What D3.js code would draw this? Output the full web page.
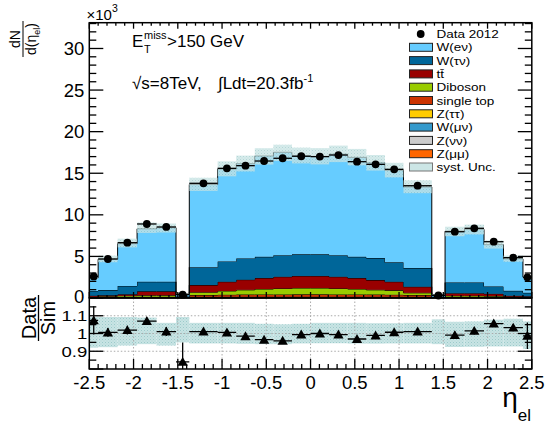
<!DOCTYPE html>
<html><head><meta charset="utf-8">
<script src="https://cdn.jsdelivr.net/npm/d3@7"></script>
<style>body{margin:0;background:#fff}svg{display:block}text{font-family:"Liberation Sans",Arial,Helvetica,sans-serif;fill:#000}</style>
</head><body><svg id="c" width="550" height="426"></svg>
<script>
// ---------------- data ----------------
const binEdges = [-2.5,-2.4,-2.18,-1.96,-1.74,-1.52,-1.37,-1.05,-0.84,-0.63,-0.42,-0.21,0,0.21,0.42,0.63,0.84,1.05,1.37,1.52,1.74,1.96,2.18,2.4,2.5];
const data2012 = [2.6,4.69,6.65,8.9,8.54,0.4,13.79,15.59,15.91,16.47,16.8,17.04,17.0,17.19,16.39,16.07,15.47,13.5,0.3,7.97,8.38,6.77,4.85,2.49];
const dataErr  = [0.12,0.15,0.18,0.2,0.2,0.05,0.25,0.25,0.25,0.25,0.25,0.25,0.25,0.25,0.25,0.25,0.25,0.25,0.05,0.2,0.2,0.18,0.15,0.12];
const Zmumu    = [0.005,0.005,0.005,0.005,0.005,0.002,0.02,0.02,0.02,0.02,0.02,0.02,0.02,0.02,0.02,0.02,0.02,0.02,0.001,0.005,0.005,0.005,0.005,0.005];
const Znunu    = [0.005,0.005,0.005,0.005,0.005,0.003,0.02,0.02,0.02,0.02,0.02,0.02,0.02,0.02,0.02,0.02,0.02,0.02,0.002,0.005,0.005,0.005,0.005,0.005];
const Wmunu    = [0.02,0.02,0.02,0.02,0.02,0.005,0.05,0.05,0.05,0.05,0.05,0.05,0.05,0.05,0.05,0.05,0.05,0.05,0.003,0.02,0.02,0.02,0.02,0.02];
const Ztautau  = [0.02,0.02,0.02,0.02,0.02,0.005,0.06,0.06,0.06,0.06,0.06,0.06,0.06,0.06,0.06,0.06,0.06,0.06,0.004,0.02,0.02,0.02,0.02,0.02];
const singletop= [0.04,0.07,0.09,0.11,0.11,0.01,0.2,0.24,0.26,0.28,0.28,0.29,0.29,0.28,0.28,0.26,0.24,0.2,0.01,0.11,0.11,0.09,0.06,0.04];
const diboson  = [0.05,0.1,0.14,0.17,0.17,0.015,0.35,0.46,0.57,0.65,0.72,0.76,0.76,0.72,0.65,0.57,0.53,0.27,0.015,0.12,0.12,0.09,0.03,0.02];
const ttbar    = [0.14,0.11,0.17,0.47,0.47,0.04,0.85,1.1,1.22,1.32,1.4,1.45,1.45,1.4,1.32,1.17,1.03,0.73,0.035,0.3,0.3,0.27,0.12,0.11];
const Wtaunu   = [0.57,0.62,1.0,1.15,1.15,0.1,2.15,2.45,2.55,2.55,2.6,2.6,2.6,2.6,2.55,2.65,2.35,2.25,0.08,1.28,1.28,0.88,0.6,0.4];
const Wenu     = [1.57,3.71,5.08,6.37,6.5,0.3,9.94,11.1,11.4,12.12,12.37,11.89,11.75,12.14,11.96,11.45,11.06,9.75,0.25,6.18,6.4,5.03,3.84,1.9];
const ratio    = [1.074,1.006,1.019,1.07,1.011,0.84,1.011,1.006,0.985,0.965,0.959,0.994,1.0,0.994,0.969,0.989,1.007,1.011,null,0.991,1.015,1.056,1.033,0.987];
const ratioErr = [0.08,0.025,0.025,0.02,0.025,0.11,0.014,0.014,0.014,0.014,0.014,0.014,0.014,0.014,0.014,0.014,0.014,0.014,0,0.02,0.02,0.02,0.02,0.075];
const systUp   = [0.093,0.093,0.093,0.09,0.06,0.093,0.06,0.06,0.06,0.055,0.052,0.055,0.06,0.06,0.06,0.058,0.058,0.06,0.08,0.066,0.068,0.078,0.083,0.068];
const systDown = [0.08,0.077,0.068,0.06,0.068,0.05,0.056,0.056,0.058,0.06,0.06,0.056,0.055,0.055,0.057,0.057,0.056,0.056,0.06,0.076,0.075,0.073,0.073,0.087];
const mainYTicks = [0,5,10,15,20,25,30];
const ratioYTicks = [0.9,1,1.1];
const xTicks = [-2.5,-2,-1.5,-1,-0.5,0,0.5,1,1.5,2,2.5];
const xTickLabels = ["-2.5","-2","-1.5","-1","-0.5","0","0.5","1","1.5","2","2.5"];

const stackKeys = ["Zmumu","Znunu","Wmunu","Ztautau","singletop","diboson","ttbar","Wtaunu","Wenu"];
const seriesMap = {Zmumu,Znunu,Wmunu,Ztautau,singletop,diboson,ttbar,Wtaunu,Wenu};
const colors = {Wenu:"#66ccff",Wtaunu:"#006699",ttbar:"#990000",diboson:"#99cc00",singletop:"#cc3300",Ztautau:"#ffcc00",Wmunu:"#3399cc",Znunu:"#cccccc",Zmumu:"#ff6600"};
const legendItems = [["Wenu","W(eν)"],["Wtaunu","W(τν)"],["ttbar","tt\u0304"],["diboson","Diboson"],["singletop","single top"],["Ztautau","Z(ττ)"],["Wmunu","W(μν)"],["Znunu","Z(νν)"],["Zmumu","Z(μμ)"]];

// ---------------- layout ----------------
const X0=89.3, X1=531.8, YT=22.7, YB=298, YR=369;
const x = d3.scaleLinear().domain([-2.5,2.5]).range([X0,X1]);
const y = d3.scaleLinear().domain([0,33.1]).range([YB,YT]);
const yr = d3.scaleLinear().domain([0.8,1.2]).range([YR,YB]);
const svg = d3.select("#c");
const defs = svg.append("defs");
const pat = defs.append("pattern").attr("id","hatch").attr("width",3).attr("height",3).attr("patternUnits","userSpaceOnUse");
pat.append("rect").attr("width",3).attr("height",3).attr("fill","#c8e4e4");
pat.append("rect").attr("width",1).attr("height",1).attr("fill","#9ccaca");
pat.append("rect").attr("x",1.5).attr("y",1.5).attr("width",1).attr("height",1).attr("fill","#b0d6d6");
defs.append("clipPath").attr("id","clipM").append("rect").attr("x",X0).attr("y",YT).attr("width",X1-X0).attr("height",YB-YT);
defs.append("clipPath").attr("id","clipR").append("rect").attr("x",X0).attr("y",YB).attr("width",X1-X0).attr("height",YR-YB);

const nb = binEdges.length-1;
const rows = d3.range(nb).map(i=>{const r={i}; stackKeys.forEach(k=>r[k]=seriesMap[k][i]); return r;});
const stacked = d3.stack().keys(stackKeys)(rows);
const mcTotal = rows.map(r=>d3.sum(stackKeys,k=>r[k]));

const gM = svg.append("g").attr("clip-path","url(#clipM)");
stacked.forEach(layer=>{
  const pts = layer.map((d,i)=>({x:binEdges[i],lo:d[0],hi:d[1]}));
  pts.push({x:binEdges[nb],lo:layer[nb-1][0],hi:layer[nb-1][1]});
  gM.append("path").attr("d",d3.area().curve(d3.curveStepAfter).x(d=>x(d.x)).y0(d=>y(d.lo)).y1(d=>y(d.hi))(pts))
    .attr("fill",colors[layer.key]);
  gM.append("path").attr("d",d3.line().curve(d3.curveStepAfter).x(d=>x(d.x)).y(d=>y(d.hi))(pts))
    .attr("fill","none").attr("stroke","#000").attr("stroke-width",1);
});
// syst band main
gM.selectAll(".band").data(d3.range(nb)).join("rect")
  .attr("x",i=>x(binEdges[i])).attr("width",i=>x(binEdges[i+1])-x(binEdges[i]))
  .attr("y",i=>y(mcTotal[i]*(1+systUp[i]))).attr("height",i=>y(mcTotal[i]*(1-systDown[i]))-y(mcTotal[i]*(1+systUp[i])))
  .attr("fill","url(#hatch)").attr("opacity",0.75);
// data
const gD = svg.append("g");
d3.range(nb).forEach(i=>{
  const xc = x((binEdges[i]+binEdges[i+1])/2);
  gD.append("line").attr("x1",x(binEdges[i])).attr("x2",x(binEdges[i+1])).attr("y1",y(data2012[i])).attr("y2",y(data2012[i])).attr("stroke","#000").attr("stroke-width",1.3);
  gD.append("line").attr("x1",xc).attr("x2",xc).attr("y1",y(data2012[i]-dataErr[i])).attr("y2",y(data2012[i]+dataErr[i])).attr("stroke","#000").attr("stroke-width",1.3);
  gD.append("circle").attr("cx",xc).attr("cy",y(data2012[i])).attr("r",3.9).attr("fill","#000");
});

// ratio panel
const gR = svg.append("g").attr("clip-path","url(#clipR)");
gR.selectAll(".rb").data(d3.range(nb)).join("rect")
  .attr("x",i=>x(binEdges[i])).attr("width",i=>x(binEdges[i+1])-x(binEdges[i]))
  .attr("y",i=>yr(1+systUp[i])).attr("height",i=>yr(1-systDown[i])-yr(1+systUp[i]))
  .attr("fill","url(#hatch)");
xTicks.slice(1,-1).forEach(v=>gR.append("line").attr("x1",x(v)).attr("x2",x(v)).attr("y1",YB).attr("y2",YR).attr("stroke","#aaa").attr("stroke-dasharray","1.5,2"));
ratioYTicks.forEach(v=>gR.append("line").attr("x1",X0).attr("x2",X1).attr("y1",yr(v)).attr("y2",yr(v)).attr("stroke","#aaa").attr("stroke-dasharray","1.5,2"));
d3.range(nb).forEach(i=>{
  if(ratio[i]==null) return;
  const xc = x((binEdges[i]+binEdges[i+1])/2);
  gR.append("line").attr("x1",x(binEdges[i])).attr("x2",x(binEdges[i+1])).attr("y1",yr(ratio[i])).attr("y2",yr(ratio[i])).attr("stroke","#000").attr("stroke-width",1.3);
  gR.append("line").attr("x1",xc).attr("x2",xc).attr("y1",yr(ratio[i]-ratioErr[i])).attr("y2",yr(ratio[i]+ratioErr[i])).attr("stroke","#000").attr("stroke-width",1.3);
  gR.append("path").attr("d",d3.symbol(d3.symbolTriangle,46)()).attr("transform",`translate(${xc},${yr(ratio[i])+1})`).attr("fill","#000");
});

// frames and ticks
const gA = svg.append("g").attr("stroke","#000").attr("fill","none");
gA.append("rect").attr("x",X0).attr("y",YT).attr("width",X1-X0).attr("height",YB-YT).attr("stroke-width",1.5);
gA.append("rect").attr("x",X0).attr("y",YB).attr("width",X1-X0).attr("height",YR-YB).attr("stroke-width",1.5);
function hTick(xp,yp,len){gA.append("line").attr("x1",xp).attr("x2",xp+len).attr("y1",yp).attr("y2",yp).attr("stroke-width",1.3);}
function vTick(xp,yp,len){gA.append("line").attr("x1",xp).attr("x2",xp).attr("y1",yp).attr("y2",yp+len).attr("stroke-width",1.3);}
d3.range(0,34,1).forEach(v=>{const m=v%5===0, L=m?14:7; hTick(X0,y(v),L); hTick(X1,y(v),-L);});
[0.8,0.85,0.9,0.95,1,1.05,1.1,1.15].forEach(v=>{const m=Math.abs(v*10-Math.round(v*10))<1e-6, L=m?14:7; hTick(X0,yr(v),L); hTick(X1,yr(v),-L);});
d3.range(-25,26,1).forEach(k=>{const v=k/10, m=k%5===0;
  vTick(x(v),YT,m?6:3); vTick(x(v),YB,m?-6:-3); vTick(x(v),YR,m?-10:-5);});

// tick labels
const gT = svg.append("g").attr("font-size",18.5);
mainYTicks.forEach(v=>gT.append("text").attr("x",X0-5).attr("y",v===0?y(v)-2:y(v)).attr("dy","0.36em").attr("text-anchor","end").text(v));
ratioYTicks.forEach(v=>{
  const t = gT.append("text").attr("x",X0-2).attr("y",yr(v)).attr("dy","0.36em").attr("text-anchor","end").text(v);
  const w = t.node().getComputedTextLength();
  t.attr("font-size",15).attr("textLength",w).attr("lengthAdjust","spacingAndGlyphs");
});
xTicks.forEach((v,i)=>gT.append("text").attr("x",x(v)).attr("y",388.5).attr("text-anchor","middle").text(xTickLabels[i]));

// x10^3
const tx = svg.append("text").attr("x",86.5).attr("y",20).attr("font-size",15);
tx.append("tspan").text("×10");
tx.append("tspan").attr("font-size",10.5).attr("dy",-8).text("3");

// main y title
const gy = svg.append("g").attr("transform","translate(23,39) rotate(-90)");
gy.append("text").attr("x",0).attr("y",-3.5).attr("text-anchor","middle").attr("font-size",14).text("dN");
gy.append("line").attr("x1",-18).attr("x2",18).attr("y1",0).attr("y2",0).attr("stroke","#000").attr("stroke-width",1);
const den = gy.append("text").attr("x",0).attr("y",13).attr("text-anchor","middle").attr("font-size",14);
den.append("tspan").text("d(η");
den.append("tspan").attr("font-size",9).attr("dy",4).text("el");
den.append("tspan").attr("dy",-4).text(")");

// ratio y title
const gry = svg.append("g").attr("transform","translate(38.5,318) rotate(-90)");
gry.append("text").attr("y",-3).attr("text-anchor","middle").attr("font-size",20).text("Data");
gry.append("line").attr("x1",-23).attr("x2",23).attr("y1",0).attr("y2",0).attr("stroke","#000").attr("stroke-width",1.3);
gry.append("text").attr("y",16.5).attr("text-anchor","middle").attr("font-size",20).text("Sim");

// x title
const xt = svg.append("text").attr("x",531).attr("y",407).attr("text-anchor","end");
xt.append("tspan").attr("font-size",28).text("η");
xt.append("tspan").attr("font-size",17).attr("dy",14).text("el");

// annotations
svg.append("text").attr("x",132).attr("y",47).attr("font-size",17).text("E");
svg.append("text").attr("x",144).attr("y",53).attr("font-size",11).text("T");
svg.append("text").attr("x",144).attr("y",38.5).attr("font-size",11).text("miss");
svg.append("text").attr("x",167).attr("y",47).attr("font-size",17).text(">150 GeV");
svg.append("text").attr("x",132).attr("y",89).attr("font-size",17).text("√s=8TeV,");
const a3 = svg.append("text").attr("x",218).attr("y",89).attr("font-size",17);
a3.append("tspan").text("∫Ldt=20.3fb");
a3.append("tspan").attr("font-size",11).attr("dy",-7).text("-1");

// legend
const gL = svg.append("g");
const LY0=34, LDY=13.3;
function legText(yy,lab){
  const t = gL.append("text").attr("x",436.5).attr("y",yy).attr("dy","0.36em").attr("font-size",13.5).text(lab);
  const w = t.node().getComputedTextLength();
  t.attr("font-size",11.6).attr("textLength",w).attr("lengthAdjust","spacingAndGlyphs");
}
gL.append("circle").attr("cx",420.7).attr("cy",LY0).attr("r",3.9).attr("fill","#000");
legText(LY0,"Data 2012");
legendItems.forEach(([k,lab],i)=>{
  const yy = LY0+LDY*(i+1);
  gL.append("rect").attr("x",409.5).attr("y",yy-4).attr("width",23).attr("height",8).attr("fill",colors[k]).attr("stroke","#222").attr("stroke-width",1);
  legText(yy,lab);
});
const ys = LY0+LDY*10;
gL.append("rect").attr("x",409.5).attr("y",ys-4).attr("width",23).attr("height",8).attr("fill","#cce6e6").attr("stroke","#777").attr("stroke-width",1);
legText(ys,"syst. Unc.");
</script></body></html>
